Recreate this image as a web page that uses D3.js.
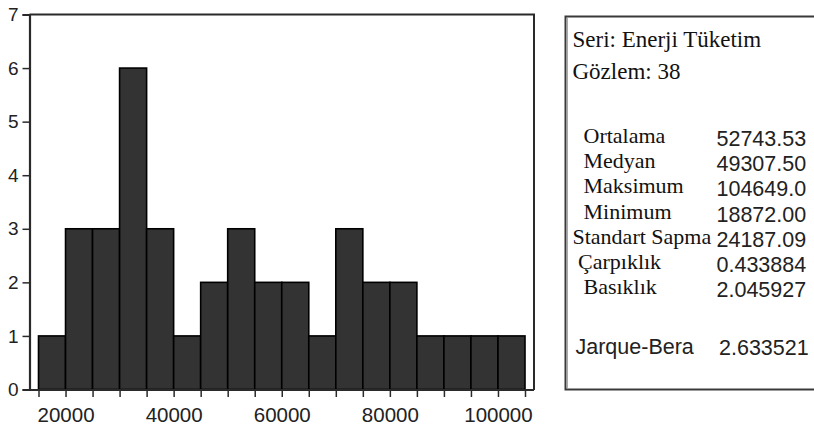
<!DOCTYPE html>
<html>
<head>
<meta charset="utf-8">
<script src="https://cdn.jsdelivr.net/npm/d3@7/dist/d3.min.js"></script>
<style>
  html, body { margin: 0; padding: 0; background: #fff; }
  svg text { white-space: pre; }
</style>
</head>
<body>
<svg id="chart" width="814" height="431"></svg>
<script>
// ---- data ----
const binEdges = [15000, 20000, 25000, 30000, 35000, 40000, 45000, 50000, 55000, 60000,
                  65000, 70000, 75000, 80000, 85000, 90000, 95000, 100000, 105000];
const counts = [1, 3, 3, 6, 3, 1, 2, 3, 2, 2, 1, 3, 2, 2, 1, 1, 1, 1];
const xTickValues = [20000, 40000, 60000, 80000, 100000];
const yTickValues = [0, 1, 2, 3, 4, 5, 6, 7];
const seriesName = "Enerji Tüketim";
const nObs = 38;
const statLabels = ["  Ortalama", "  Medyan", "  Maksimum", "  Minimum", "Standart Sapma", " Çarpıklık", "  Basıklık"];
const statValues = ["52743.53", "49307.50", "104649.0", "18872.00", "24187.09", "0.433884", "2.045927"];
const jbLabel = "Jarque-Bera";
const jbValue = "2.633521";

// ---- layout ----
const svg = d3.select("#chart");
const frame = { left: 29.5, right: 534, top: 14.5, bottom: 389.5 };

const x = d3.scaleLinear().domain([15000, 105000]).range([38.5, 525]);
const y = d3.scaleLinear().domain([0, 7]).range([frame.bottom, frame.top]);

const bins = counts.map((c, i) => ({ x0: binEdges[i], x1: binEdges[i + 1], count: c }));

// bars
svg.append("g").selectAll("rect").data(bins).join("rect")
  .attr("x", d => x(d.x0))
  .attr("y", d => y(d.count))
  .attr("width", d => x(d.x1) - x(d.x0))
  .attr("height", d => y(0) - y(d.count))
  .attr("fill", "#333333")
  .attr("stroke", "#000")
  .attr("stroke-width", 1.6);

// frame (top and right)
svg.append("path")
  .attr("d", `M${frame.left},${frame.top}H${frame.right}V${frame.bottom + 0.5}`)
  .attr("fill", "none").attr("stroke", "#2a2a2a").attr("stroke-width", 2);

// y axis
const yAxis = d3.axisLeft(y).tickValues(yTickValues).tickSize(7).tickPadding(4).tickFormat(d3.format("d"));
const gy = svg.append("g").attr("transform", `translate(${frame.left},0)`).call(yAxis);
gy.select(".domain").attr("stroke", "#2a2a2a").attr("stroke-width", 2.2);
gy.selectAll(".tick line").attr("stroke", "#2a2a2a").attr("stroke-width", 1.5);
gy.selectAll("text").attr("font-family", "Liberation Sans, Arial, sans-serif")
  .attr("font-size", 19).attr("fill", "#222");

// x axis: ticks at every bin edge, labels at selected values
const xAxisTicks = d3.axisBottom(x).tickValues(binEdges).tickSize(7).tickFormat("");
const gxt = svg.append("g").attr("transform", `translate(0,${frame.bottom + 0.5})`).call(xAxisTicks);
gxt.select(".domain").remove();
gxt.selectAll(".tick line").attr("stroke", "#2a2a2a").attr("stroke-width", 1.5);

const xAxis = d3.axisBottom(x).tickValues(xTickValues).tickSize(0).tickPadding(17).tickFormat(d3.format("d"));
const gx = svg.append("g").attr("transform", `translate(0,${frame.bottom + 0.5})`).call(xAxis);
gx.select(".domain").remove();
gx.selectAll("text").attr("font-family", "Liberation Sans, Arial, sans-serif")
  .attr("font-size", 20.5).attr("fill", "#222");

// x axis line
svg.append("line")
  .attr("x1", frame.left).attr("x2", frame.right)
  .attr("y1", frame.bottom + 0.5).attr("y2", frame.bottom + 0.5)
  .attr("stroke", "#2a2a2a").attr("stroke-width", 2.2);

// ---- stats box ----
const box = svg.append("g");
box.append("rect")
  .attr("x", 565.5).attr("y", 16.5).attr("width", 270).attr("height", 373)
  .attr("fill", "#fff").attr("stroke", "#3a3a3a").attr("stroke-width", 2);
box.append("line").attr("x1", 567.5).attr("x2", 567.5).attr("y1", 18).attr("y2", 388)
  .attr("stroke", "#aaa").attr("stroke-width", 1);

const serif = "Liberation Serif, Times New Roman, serif";
const sans = "Liberation Sans, Arial, sans-serif";

box.append("text").attr("x", 572.5).attr("y", 46.5)
  .attr("font-family", serif).attr("font-size", 23).attr("fill", "#111")
  .text("Seri: " + seriesName);
box.append("text").attr("x", 572.5).attr("y", 79)
  .attr("font-family", serif).attr("font-size", 23).attr("fill", "#111")
  .text("Gözlem: " + nObs);

box.selectAll("text.lab").data(statLabels).join("text").attr("class", "lab")
  .attr("x", 572.5).attr("y", (d, i) => 143 + i * 25.2)
  .attr("font-family", serif).attr("font-size", 22).attr("fill", "#111")
  .text(d => d);
box.selectAll("text.val").data(statValues).join("text").attr("class", "val")
  .attr("x", 716.5).attr("y", (d, i) => 146 + i * 25.2)
  .attr("font-family", sans).attr("font-size", 21.5).attr("fill", "#222")
  .text(d => d);

box.append("text").attr("x", 575.5).attr("y", 353.5)
  .attr("font-family", sans).attr("font-size", 21.5).attr("fill", "#222")
  .text(jbLabel);
box.append("text").attr("x", 719).attr("y", 354.5)
  .attr("font-family", sans).attr("font-size", 21.5).attr("fill", "#222")
  .text(jbValue);
</script>
</body>
</html>
